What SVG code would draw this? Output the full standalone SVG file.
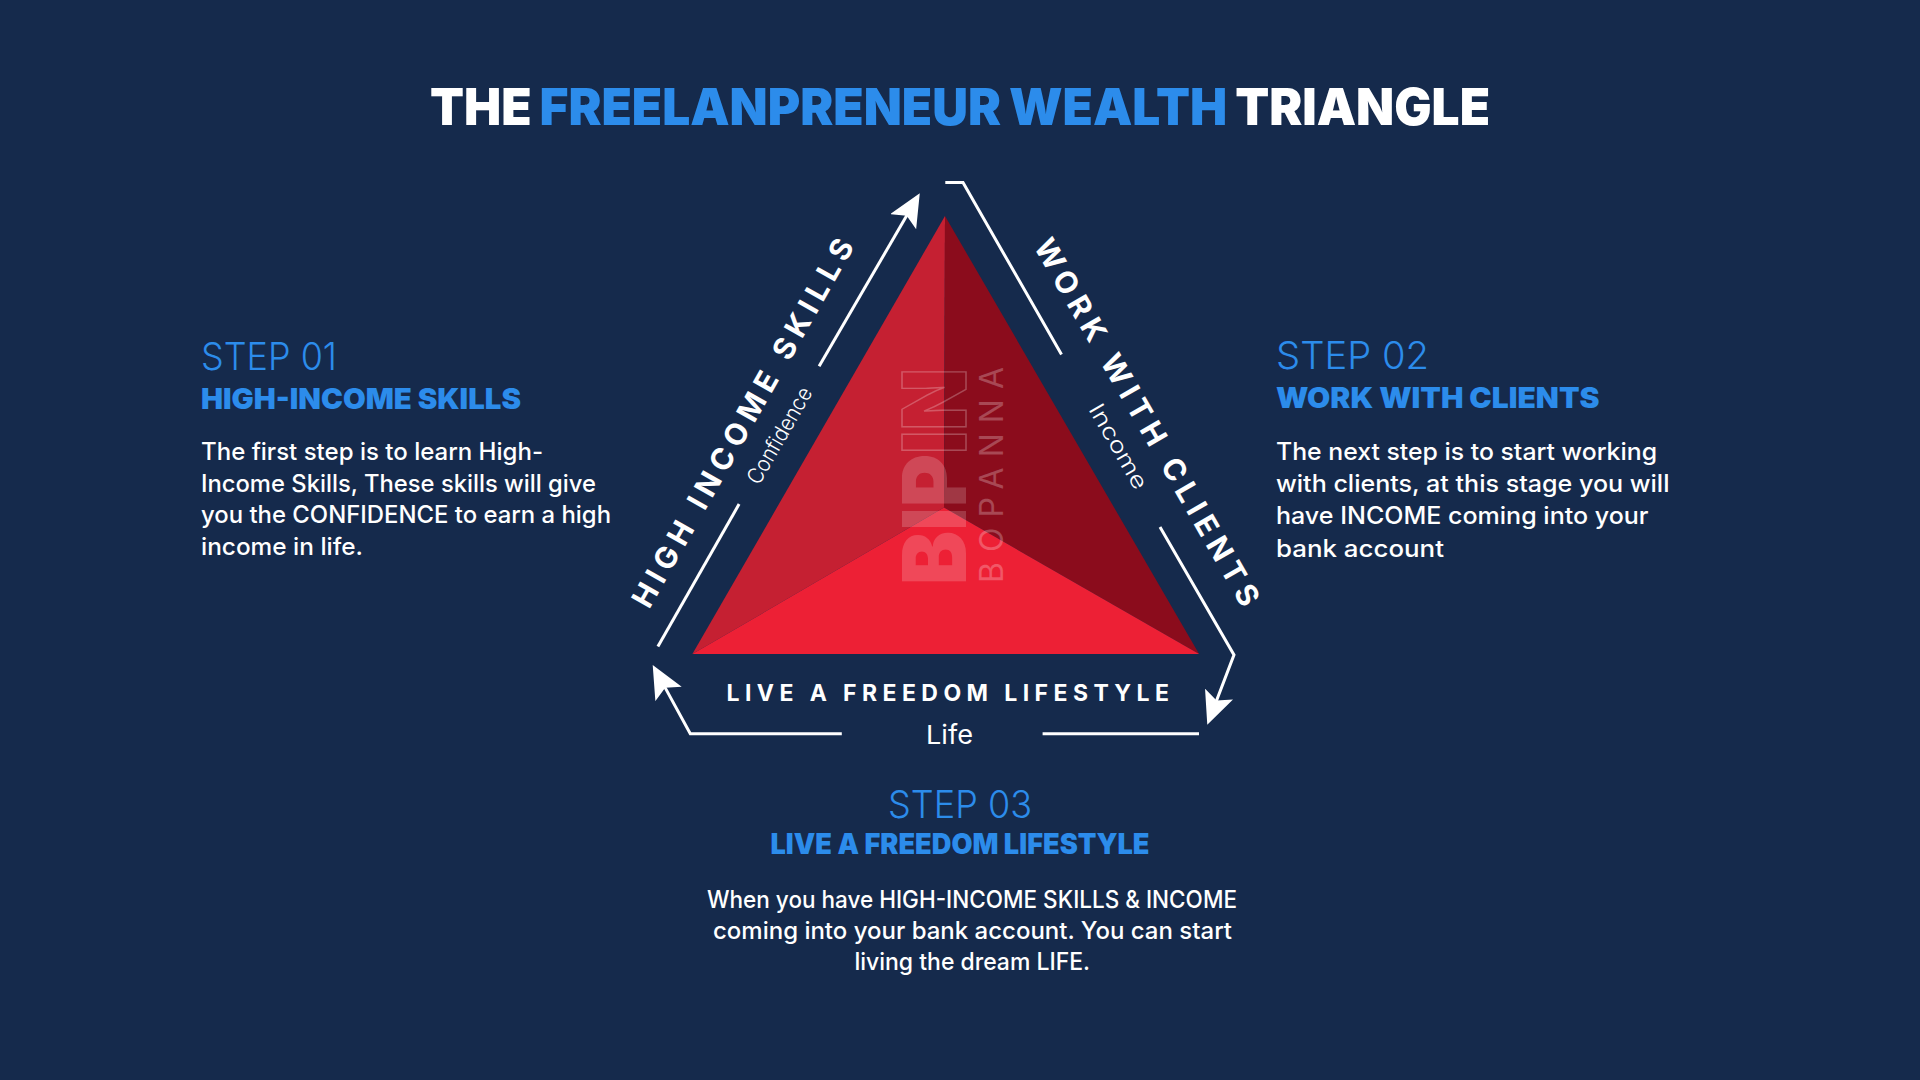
<svg xmlns="http://www.w3.org/2000/svg" width="1920" height="1080" viewBox="0 0 1920 1080">
<style>
text{font-family:"Inter","Noto Sans","Liberation Sans",sans-serif}
.t{font-size:51px;font-weight:900;fill:#fff;word-spacing:-2px}
.b{fill:#2c8ceb}
.s{font-size:38.5px;font-weight:300;fill:#2c8ceb}
.h{font-size:28.5px;font-weight:900;fill:#2c8ceb}
.p{font-size:24px;font-weight:500;fill:#fff}
.l{font-size:30px;font-weight:700;fill:#fff}
.l2{font-size:23px;font-weight:700;fill:#fff}
.c{font-size:22px;font-weight:300;fill:#fff}
.line{fill:none;stroke:#fff;stroke-width:3}
</style>
<defs>
<marker id="arrow" markerUnits="userSpaceOnUse" markerWidth="33" markerHeight="30" viewBox="0 0 33 30" refX="8" refY="15" orient="auto">
<path d="M0 0L33 15L0 30L7 15Z" fill="#fff"/>
</marker>
</defs>
<rect width="1920" height="1080" fill="#152a4c"/>
<g id="title">
<text class="t" x="430" y="125" textLength="1060" lengthAdjust="spacingAndGlyphs">THE <tspan class="b">FREELANPRENEUR WEALTH</tspan> TRIANGLE</text>
</g>
<g id="triangle">
<polygon points="945,216 944,507.5 692.4,654.1" fill="#c52032"/>
<polygon points="945,216 944,507.5 1199.1,654.1" fill="#8b0c1c"/>
<polygon points="692.4,654.1 944,507.5 1199.1,654.1" fill="#ed2035"/>
<text transform="translate(965.7 585) rotate(-90)" font-size="88" font-weight="900" fill="#fff" fill-opacity=".18" textLength="217" lengthAdjust="spacingAndGlyphs">BIP<tspan fill="none" stroke="#fff" stroke-opacity=".25" stroke-width="1.5">IN</tspan></text>
<text transform="translate(1002.7 583) rotate(-90)" font-size="32" font-weight="400" fill="#fff" fill-opacity=".25" textLength="216">BOPANNA</text>
</g>
<g id="connectors">
<path class="line" d="M657.9 646.5L739.1 504.1"/>
<path class="line" d="M819.1 366.3L907.2 214.8" marker-end="url(#arrow)"/>
<path class="line" d="M945.3 182.6H963L1061.5 354.5"/>
<path class="line" d="M1160 527L1234 654.9L1216.2 701.5" marker-end="url(#arrow)"/>
<path class="line" d="M1199 733.7H1042.6"/>
<path class="line" d="M841.8 733.7H690.3L664.7 686.9" marker-end="url(#arrow)"/>
</g>
<g id="side-high-income">
<text class="l" transform="translate(649 610) rotate(-60.5)" textLength="418">HIGH INCOME SKILLS</text>
<text class="c" transform="translate(759 486) rotate(-60)" textLength="108" lengthAdjust="spacingAndGlyphs">Confidence</text>
</g>
<g id="side-work-clients">
<text class="l" transform="translate(1033 246) rotate(60)" textLength="419">WORK WITH CLIENTS</text>
<text class="c" transform="translate(1088 409) rotate(60)" textLength="95" lengthAdjust="spacingAndGlyphs">Income</text>
</g>
<g id="side-freedom">
<text class="l2" x="726.5" y="700.5" textLength="442.5">LIVE A FREEDOM LIFESTYLE</text>
<text x="926" y="743.5" font-size="26" font-weight="400" fill="#fff" textLength="47" lengthAdjust="spacingAndGlyphs">Life</text>
</g>
<g id="step-01">
<text class="s" x="201" y="370" textLength="136" lengthAdjust="spacingAndGlyphs">STEP 01</text>
<text class="h" x="201" y="409" textLength="320" lengthAdjust="spacingAndGlyphs">HIGH-INCOME SKILLS</text>
<text class="p" x="201" y="460" textLength="342" lengthAdjust="spacingAndGlyphs">The first step is to learn High-</text>
<text class="p" x="201" y="492" textLength="395" lengthAdjust="spacingAndGlyphs">Income Skills, These skills will give</text>
<text class="p" x="201" y="523" textLength="410" lengthAdjust="spacingAndGlyphs">you the CONFIDENCE to earn a high</text>
<text class="p" x="201" y="555" textLength="162" lengthAdjust="spacingAndGlyphs">income in life.</text>
</g>
<g id="step-02">
<text class="s" x="1276" y="369.3" textLength="153" lengthAdjust="spacingAndGlyphs">STEP 02</text>
<text class="h" x="1276" y="408.3" textLength="323.5" lengthAdjust="spacingAndGlyphs">WORK WITH CLIENTS</text>
<text class="p" x="1276" y="460" textLength="381" lengthAdjust="spacingAndGlyphs">The next step is to start working</text>
<text class="p" x="1276" y="492" textLength="393.5" lengthAdjust="spacingAndGlyphs">with clients, at this stage you will</text>
<text class="p" x="1276" y="524" textLength="372.5" lengthAdjust="spacingAndGlyphs">have INCOME coming into your</text>
<text class="p" x="1276" y="556.5" textLength="168" lengthAdjust="spacingAndGlyphs">bank account</text>
</g>
<g id="step-03">
<text class="s" x="888" y="817.7" textLength="144" lengthAdjust="spacingAndGlyphs">STEP 03</text>
<text class="h" x="770.5" y="854" textLength="379" lengthAdjust="spacingAndGlyphs">LIVE A FREEDOM LIFESTYLE</text>
<text class="p" x="707" y="908" textLength="530" lengthAdjust="spacingAndGlyphs">When you have HIGH-INCOME SKILLS &amp; INCOME</text>
<text class="p" x="713" y="939" textLength="519" lengthAdjust="spacingAndGlyphs">coming into your bank account. You can start</text>
<text class="p" x="854.5" y="970" textLength="235.5" lengthAdjust="spacingAndGlyphs">living the dream LIFE.</text>
</g>
</svg>
